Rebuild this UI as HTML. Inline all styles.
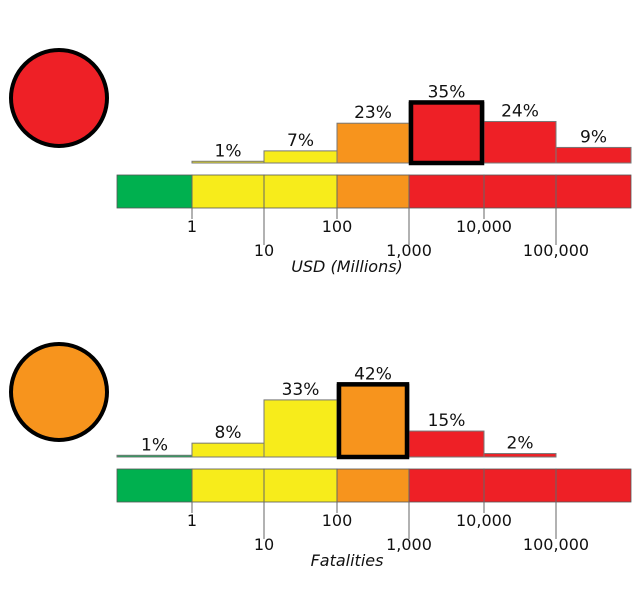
<!DOCTYPE html>
<html><head><meta charset="utf-8"><style>
html,body{margin:0;padding:0;background:#fff;width:640px;height:600px;overflow:hidden}
svg text{font-family:"DejaVu Sans","Liberation Sans",sans-serif}
</style></head><body>
<svg id="chart" width="640" height="600" viewBox="0 0 640 600" xmlns="http://www.w3.org/2000/svg"></svg>
<script>
const binColors = ["#00b04f","#f7ec1b","#f7ec1b","#f7941d","#ee2026","#ee2026","#ee2026"];
const tickLabels = ["1","10","100","1,000","10,000","100,000"];
const econValues = [0,1,7,23,35,24,9];
const fatalValues = [1,8,33,42,15,2,0];
const econHighlight = 4;
const fatalHighlight = 3;
const econAlert = "#ee2026";
const fatalAlert = "#f7941d";

const svg = document.getElementById('chart');
const NS = "http://www.w3.org/2000/svg";
const edges = [117,192,264,337,409,484,556,631];
function xBin(i){return edges[i];}
function mk(tag, attrs, parent){
  const e = document.createElementNS(NS, tag);
  for (const k in attrs) e.setAttribute(k, attrs[k]);
  (parent||svg).appendChild(e);
  return e;
}
function panel(oy, values, hi, alert, title, key){
  const g = mk('g', {});
  
  
  const circ = mk('circle', {cx:59, cy:oy+98, r:48, fill:alert, stroke:'#000', 'stroke-width':4}, g);
  
  
  const base = oy + 163, k = 1.73;
  // histogram
  values.forEach((v, i) => {
    if (v <= 0) return;
    const h = Math.max(v * k, 1.5);
    const r = mk('rect', {x:xBin(i), y:base-h, width:xBin(i+1)-xBin(i), height:h, fill:binColors[i], stroke:'#777', 'stroke-width':1}, g);
    
    
    const t = mk('text', {x:(xBin(i)+xBin(i+1))/2, y:base-h-5, 'text-anchor':'middle', 'font-size':17, fill:'#111'}, g);
    t.textContent = v + '%';
    
    
  });
  if (hi >= 0) {
    const h = values[hi] * k;
    const r = mk('rect', {x:xBin(hi)+2, y:base-h, width:xBin(hi+1)-xBin(hi)-4, height:h, fill:'none', stroke:'#000', 'stroke-width':4.5}, g);
    
    
  }
  // color scale
  const cy0 = oy + 175, ch = 33;
  for (let i = 0; i < 7; i++) {
    const r = mk('rect', {x:xBin(i), y:cy0, width:xBin(i+1)-xBin(i), height:ch, fill:binColors[i], stroke:'#555', 'stroke-width':0.8}, g);
    
    
  }
  tickLabels.forEach((lab, j) => {
    const x = xBin(j+1), long = j % 2 === 1;
    const ln = mk('line', {x1:x, x2:x, y1:cy0, y2:cy0+ch+(long?37:11), stroke:'#666', 'stroke-width':1}, g);
    
    
    const t = mk('text', {x:x, y:cy0+ch+(long?48:24), 'text-anchor':'middle', 'font-size':16, fill:'#111'}, g);
    t.textContent = lab;
    
    
  });
  const tt = mk('text', {x:347, y:oy+272, 'text-anchor':'middle', 'font-size':16, 'font-style':'italic', fill:'#111'}, g);
  tt.textContent = title;
  
  
}
panel(0, econValues, econHighlight, econAlert, "USD (Millions)", "economic");
panel(294, fatalValues, fatalHighlight, fatalAlert, "Fatalities", "fatalities");
</script>
</body></html>
